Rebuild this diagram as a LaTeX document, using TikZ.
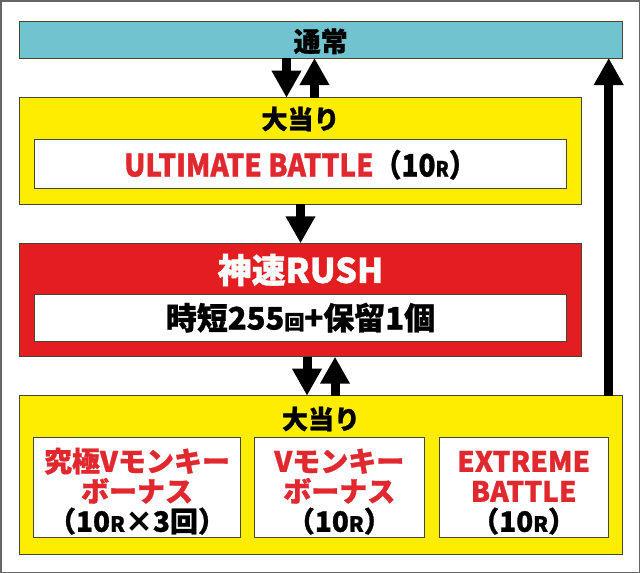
\documentclass[tikz,border=0pt]{standalone}
\usepackage{fontspec}
\newfontfamily\jpfont{Noto Sans CJK JP}[BoldFeatures={FakeBold=1}]
\newfontfamily\jpnarrow{Noto Sans CJK JP}[FakeStretch=0.9,BoldFeatures={FakeBold=1}]
\usetikzlibrary{arrows.meta}

\definecolor{normalblue}{RGB}{113,195,207}
\definecolor{hityellow}{RGB}{255,237,0}
\definecolor{rushred}{RGB}{228,30,32}
\definecolor{textred}{RGB}{224,40,46}
\definecolor{edgegray}{RGB}{70,70,55}

\newcommand{\smallR}{{\fontsize{21}{21}\selectfont R}}
\newcommand{\jpsize}[1]{\jpfont\bfseries\fontsize{#1}{#1}\selectfont}

\begin{document}
\begin{tikzpicture}[x=1pt,y=-1pt,
    box/.style={draw=edgegray,line width=1pt,inner sep=0pt,outer sep=0pt},
    title/.style={inner sep=0pt,font=\jpsize{26}},
    bigarrow/.style={line width=9pt,-{Triangle[length=27pt,width=28pt]}}]

    \useasboundingbox (0,0) rectangle (640,573);

    % outer frame
    \draw[line width=1.5pt,black!60] (0.75,0.75) rectangle (639.25,572.25);

    % normal state
    \node[box,fill=normalblue,minimum width=602.7pt,minimum height=36.3pt,font=\jpsize{27}] (normal) at (320.65,39.85) {\rule{0pt}{26pt}通常};

    % first hit
    \node[box,fill=hityellow,minimum width=562.4pt,minimum height=106.3pt] (hit1) at (300.5,150.85) {};
    \node[title] (hit1title) at (300.5,119) {大当り};
    \node[box,fill=white,minimum width=532.4pt,minimum height=48.7pt,font=\jpnarrow\bfseries\fontsize{31}{31}\selectfont] (ultimate) at (300.5,163.65)
        {\rule{0pt}{29pt}{\color{textred}ULTIMATE BATTLE}（10\smallR）};

    % rush
    \node[box,fill=rushred,minimum width=562.4pt,minimum height=113.4pt] (rush) at (300.5,300) {};
    \node[title,white,font=\jpsize{34}] (rushtitle) at (300.5,270) {神速RUSH};
    \node[box,fill=white,minimum width=532.4pt,minimum height=46.7pt,font=\jpsize{31}] (jitan) at (300.5,317.65)
        {時短255{\fontsize{20}{20}\selectfont 回}+保留1個};

    % second hit
    \node[box,fill=hityellow,minimum width=603.4pt,minimum height=158.3pt] (hit2) at (321,474.85) {};
    \node[title] (hit2title) at (321,419) {大当り};
    \node[box,fill=white,minimum width=207.4pt,minimum height=100pt,align=center,font=\jpsize{28}] (bonus1) at (137,487.7)
        {\rule{0pt}{31pt}\textcolor{textred}{究極Vモンキー}\\[2pt]\textcolor{textred}{ボーナス}\\[2pt]（10\smallR×3回）};
    \node[box,fill=white,minimum width=170pt,minimum height=100pt,align=center,font=\jpsize{28}] (bonus2) at (339.3,487.7)
        {\rule{0pt}{31pt}\textcolor{textred}{Vモンキー}\\[2pt]\textcolor{textred}{ボーナス}\\[2pt]（10\smallR）};
    \node[box,fill=white,minimum width=169.3pt,minimum height=100pt,align=center,font=\jpsize{28}] (bonus3) at (523.65,487.7)
        {\rule{0pt}{31pt}\textcolor{textred}{EXTREME}\\[2pt]\textcolor{textred}{BATTLE}\\[2pt]（10\smallR）};

    % arrows
    \draw[bigarrow] ([xshift=-14pt]hit1.north |- normal.south) -- ([xshift=-14pt]hit1.north);
    \draw[bigarrow] ([xshift=14pt]hit1.north) -- ([xshift=14pt]hit1.north |- normal.south);
    \draw[bigarrow] (hit1.south) -- (rush.north);
    \draw[bigarrow] ([xshift=-14pt]hit2.north |- rush.south) -- ([xshift=-14pt]hit2.north);
    \draw[bigarrow] ([xshift=14pt]hit2.north) -- ([xshift=14pt]hit2.north |- rush.south);
    \draw[bigarrow] ([xshift=-14pt]hit2.north east) -- ([xshift=-14pt]hit2.north east |- normal.south);
\end{tikzpicture}
\end{document}
